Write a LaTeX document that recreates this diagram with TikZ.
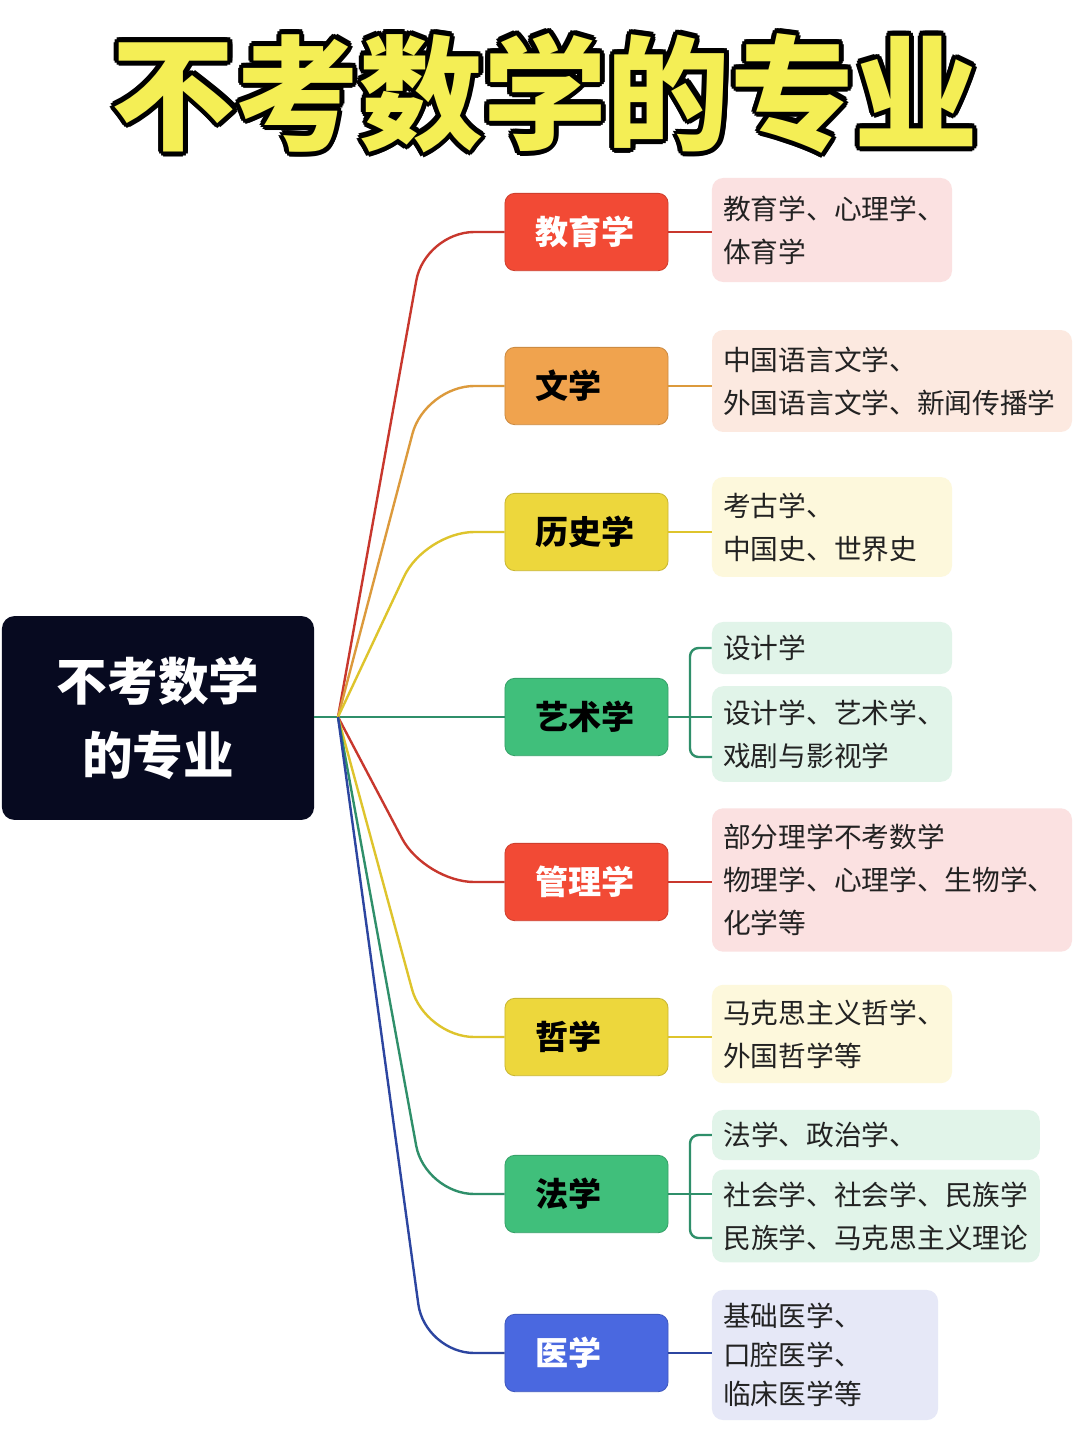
\documentclass[tikz,border=0pt]{standalone}
\usepackage{fontspec}
\newfontfamily\cjk{Noto Sans CJK SC}
\usetikzlibrary{calc}
\definecolor{Ink}{HTML}{222222}
\definecolor{RootNavy}{HTML}{070A20}
\definecolor{TitleYellow}{HTML}{F4EE55}
\definecolor{CatRed}{HTML}{F24A35}
\definecolor{CatOrange}{HTML}{F0A34E}
\definecolor{CatYellow}{HTML}{EDD73C}
\definecolor{CatGreen}{HTML}{40BF7B}
\definecolor{CatBlue}{HTML}{4A68E0}
\definecolor{LineRed}{HTML}{C8372D}
\definecolor{LineOrange}{HTML}{DC9A3C}
\definecolor{LineYellow}{HTML}{DEC42C}
\definecolor{LineGreen}{HTML}{2F8F6A}
\definecolor{LineBlue}{HTML}{2C45A0}
\definecolor{LeafPink}{HTML}{FBE1E1}
\definecolor{LeafPeach}{HTML}{FCE9E0}
\definecolor{LeafYellow}{HTML}{FDF8DC}
\definecolor{LeafGreen}{HTML}{E1F4E9}
\definecolor{LeafBlue}{HTML}{E6E8F7}
\tikzset{
  titletext/.style={font=\cjk\bfseries\fontsize{88}{96}\selectfont,inner sep=0pt},
  rootbox/.style={rounded corners=9pt,fill=RootNavy,text=white,minimum width=222pt,minimum height=145pt,align=center,font=\cjk\bfseries\fontsize{36}{52.5}\selectfont},
  catbox/.style={rounded corners=7pt,fill=#1,draw=#1!85!black,line width=0.6pt,minimum width=116pt,minimum height=55pt,inner xsep=22pt,text width=72pt,align=left,font=\cjk\bfseries\fontsize{23.5}{28}\selectfont,text=black},
  leafbox/.style={rounded corners=8pt,fill=#1,inner xsep=8pt,align=left,font=\cjk\fontsize{19.7}{30.5}\selectfont,text=Ink},
  branch/.style={line width=1.7pt,rounded corners=35pt},
  twig/.style={line width=1.7pt,rounded corners=6pt}
}
\begin{document}
\begin{tikzpicture}[x=0.025cm,y=-0.025cm]
\useasboundingbox (0,0) rectangle (1080,1440);
\fill[white] (0,0) rectangle (1080,1440);
% title with black outline
\foreach \a in {0,30,...,330}
  \node[titletext,text=black] (ttl\a) at ({545+5*cos(\a)},{93+5*sin(\a)}) {不考数学的专业};
\node[titletext,text=TitleYellow] (title) at (545,93) {不考数学的专业};
% root
\node[rootbox] (root) at (158,718) {不考数学\\的专业};
\coordinate (hub) at (338,717);
\coordinate (bend) at (425,0);
% categories
\node[catbox=CatRed,text=white] (edu) at (586.5,232) {教育学};
\node[catbox=CatOrange] (lit) at (586.5,386) {文学};
\node[catbox=CatYellow] (hist) at (586.5,532) {历史学};
\node[catbox=CatGreen] (art) at (586.5,717) {艺术学};
\node[catbox=CatRed,text=white] (mgmt) at (586.5,882) {管理学};
\node[catbox=CatYellow] (phil) at (586.5,1037) {哲学};
\node[catbox=CatGreen] (law) at (586.5,1194) {法学};
\node[catbox=CatBlue,text=white] (med) at (586.5,1353) {医学};
% leaves
\node[leafbox=LeafPink,text width=154.7pt,minimum height=74pt] (eduL) at (832,230) {教育学、心理学、\\体育学};
\node[leafbox=LeafPeach,text width=240pt,minimum height=72.5pt] (litL) at (892,381) {中国语言文学、\\外国语言文学、新闻传播学};
\node[leafbox=LeafYellow,text width=154.7pt,minimum height=71pt] (histL) at (832,527) {考古学、\\中国史、世界史};
\node[leafbox=LeafGreen,text width=154.7pt,minimum height=37pt] (artL1) at (832,648) {设计学};
\node[leafbox=LeafGreen,text width=154.7pt,minimum height=68pt] (artL2) at (832,734) {设计学、艺术学、\\戏剧与影视学};
\node[leafbox=LeafPink,text width=240pt,minimum height=102pt] (mgmtL) at (892,880) {部分理学不考数学\\物理学、心理学、生物学、\\化学等};
\node[leafbox=LeafYellow,text width=154.7pt,minimum height=70pt] (philL) at (832,1034) {马克思主义哲学、\\外国哲学等};
\node[leafbox=LeafGreen,text width=217pt,minimum height=35.6pt] (lawL1) at (876,1135) {法学、政治学、};
\node[leafbox=LeafGreen,text width=217pt,minimum height=66pt] (lawL2) at (876,1216) {社会学、社会学、民族学\\民族学、马克思主义理论};
\node[leafbox=LeafBlue,text width=144.8pt,minimum height=92.5pt,font=\cjk\fontsize{19.7}{27.8}\selectfont] (medL) at (825,1355) {基础医学、\\口腔医学、\\临床医学等};
% branches from root
\draw[LineGreen,line width=1.7pt] (root.east |- hub) -- (art.west);
\foreach \c/\col in {edu/LineRed,lit/LineOrange,hist/LineYellow,mgmt/LineRed,phil/LineYellow,law/LineGreen,med/LineBlue}
  \draw[branch,\col] (hub) -- (bend |- \c.west) -- (\c.west);
% category to leaves
\foreach \c/\col in {edu/LineRed,lit/LineOrange,hist/LineYellow,mgmt/LineRed,phil/LineYellow,med/LineBlue}
  \draw[\col,line width=1.7pt] (\c.east) -- (\c.east -| \c L.west);
\coordinate (artfork) at (690,717);
\coordinate (artlow) at (712,757);
\draw[LineGreen,line width=1.7pt] (art.east) -- (art.east -| artL2.west);
\draw[twig,LineGreen] (artL1.west) -| (artfork) |- (artlow);
\coordinate (lawfork) at (690,1194);
\coordinate (lawlow) at (712,1238);
\draw[LineGreen,line width=1.7pt] (law.east) -- (law.east -| lawL2.west);
\draw[twig,LineGreen] (lawL1.west) -| (lawfork) |- (lawlow);
\end{tikzpicture}
\end{document}
